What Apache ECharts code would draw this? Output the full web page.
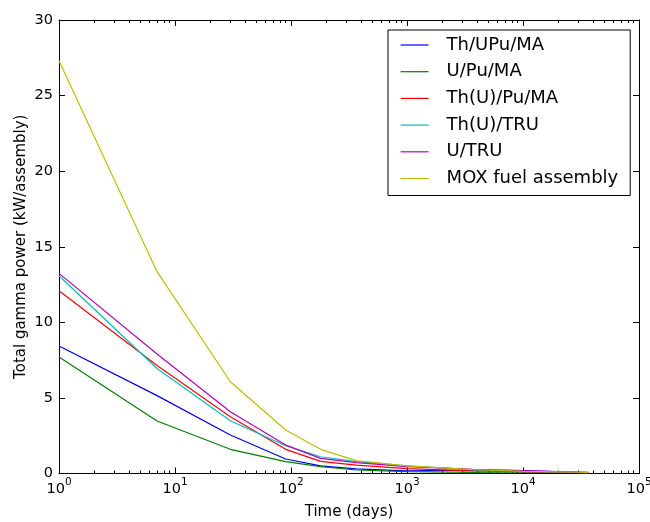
<!DOCTYPE html>
<html>
<head>
<meta charset="utf-8">
<script src="https://cdn.jsdelivr.net/npm/echarts@6/dist/echarts.min.js"></script>
<style>html,body{margin:0;padding:0;background:#fff;}#c{width:650px;height:522px;}</style>
</head>
<body>
<div id="c"></div>
<script>
// Time points (days)
const times = [1, 7, 30, 90, 180, 365, 1000, 3650, 10000, 36500];
// Total gamma power (kW/assembly)
const thUPuMA  = [8.43, 5.15, 2.55, 0.96, 0.50, 0.30, 0.18, 0.22, 0.20, 0.06];
const uPuMA    = [7.70, 3.47, 1.60, 0.78, 0.45, 0.23, 0.12, 0.08, 0.10, 0.07];
const thUPuMA2 = [12.09, 7.15, 3.76, 1.60, 0.80, 0.56, 0.32, 0.18, 0.12, 0.05];
const thUTRU   = [13.08, 6.95, 3.49, 1.84, 1.11, 0.78, 0.50, 0.25, 0.15, 0.05];
const uTRU     = [13.24, 7.90, 4.09, 1.88, 1.00, 0.72, 0.45, 0.28, 0.20, 0.06];
const mox      = [27.30, 13.35, 6.07, 2.88, 1.60, 0.85, 0.50, 0.25, 0.15, 0.07];

const seriesNames = ['Th/UPu/MA', 'U/Pu/MA', 'Th(U)/Pu/MA', 'Th(U)/TRU', 'U/TRU', 'MOX fuel assembly'];
const seriesValues = [thUPuMA, uPuMA, thUPuMA2, thUTRU, uTRU, mox];
const colors = ['#0000ff', '#008000', '#ff0000', '#00bfbf', '#bf00bf', '#bfbf00'];

const xMajorTicks = [1, 10, 100, 1000, 10000, 100000];
const yTicks = [0, 5, 10, 15, 20, 25, 30];
const xMinorTicks = [];
for (let k = 0; k < 5; k++) for (let m = 2; m <= 9; m++) xMinorTicks.push(m * Math.pow(10, k));

const FONT = 'DejaVu Sans';
const chart = echarts.init(document.getElementById('c'), null, {renderer: 'canvas'});

function logAxis(pos, ticks, len, showLine, withLabel) {
  const ax = {
    type: 'log', logBase: 10, min: 1, max: 100000, position: pos,
    axisLine: {show: showLine, lineStyle: {color: '#000', width: 1}},
    axisTick: {show: true, inside: true, length: len, customValues: ticks, lineStyle: {color: '#000', width: 1}},
    axisLabel: {show: false},
    splitLine: {show: false}, minorTick: {show: false}
  };
  if (withLabel) {
    ax.axisLabel = {
      show: true, customValues: xMajorTicks, margin: 3,
      formatter: v => '{b|10}{s|' + Math.round(Math.log10(v)) + '}',
      rich: {
        b: {fontFamily: FONT, fontSize: 14.5, color: '#000', lineHeight: 20, verticalAlign: 'bottom'},
        s: {fontFamily: FONT, fontSize: 10.5, color: '#000', lineHeight: 20, verticalAlign: 'top'}
      }
    };
    ax.name = 'Time (days)';
    ax.nameLocation = 'middle';
    ax.nameGap = 31;
    ax.nameMoveOverlap = false;
    ax.nameTextStyle = {fontFamily: FONT, fontSize: 15, color: '#000', verticalAlign: 'top'};
  }
  return ax;
}

const option = {
  backgroundColor: '#fff',
  animation: false,
  grid: {left: 59, right: 11, top: 20, bottom: 48.5, outerBoundsMode: 'none', containLabel: false},
  legend: {
    orient: 'vertical', left: 388, top: 30,
    data: seriesNames,
    borderColor: '#000', borderWidth: 1, padding: [5, 12, 7, 12],
    itemWidth: 28, itemHeight: 10, itemGap: 6.7,
    itemStyle: {opacity: 0},
    lineStyle: {width: 1.2},
    textStyle: {fontFamily: FONT, fontSize: 18, color: '#000', lineHeight: 20, padding: [0, 0, 0, 13]}
  },
  xAxis: [
    logAxis('bottom', xMajorTicks, 6, true, true),
    logAxis('bottom', xMinorTicks, 3, false, false),
    logAxis('top', xMajorTicks, 6, true, false),
    logAxis('top', xMinorTicks, 3, false, false)
  ],
  yAxis: [
    {
      type: 'value', min: 0, max: 30, interval: 5, position: 'left',
      axisLine: {show: true, lineStyle: {color: '#000', width: 1}},
      axisTick: {show: true, inside: true, length: 6, lineStyle: {color: '#000'}},
      axisLabel: {fontFamily: FONT, fontSize: 14.5, color: '#000', margin: 6, customValues: yTicks},
      splitLine: {show: false},
      name: 'Total gamma power (kW/assembly)', nameLocation: 'middle', nameGap: 30,
      nameMoveOverlap: false,
      nameTextStyle: {fontFamily: FONT, fontSize: 15, color: '#000'}
    },
    {
      type: 'value', min: 0, max: 30, interval: 5, position: 'right',
      axisLine: {show: true, lineStyle: {color: '#000', width: 1}},
      axisTick: {show: true, inside: true, length: 6, lineStyle: {color: '#000'}},
      axisLabel: {show: false}, splitLine: {show: false}
    }
  ],
  series: seriesNames.map((n, i) => ({
    name: n, type: 'line', xAxisIndex: 0, yAxisIndex: 0,
    symbol: 'none', color: colors[i],
    lineStyle: {width: 1.2, color: colors[i]},
    data: times.map((t, j) => [t, seriesValues[i][j]])
  }))
};
chart.setOption(option);
</script>
</body>
</html>
